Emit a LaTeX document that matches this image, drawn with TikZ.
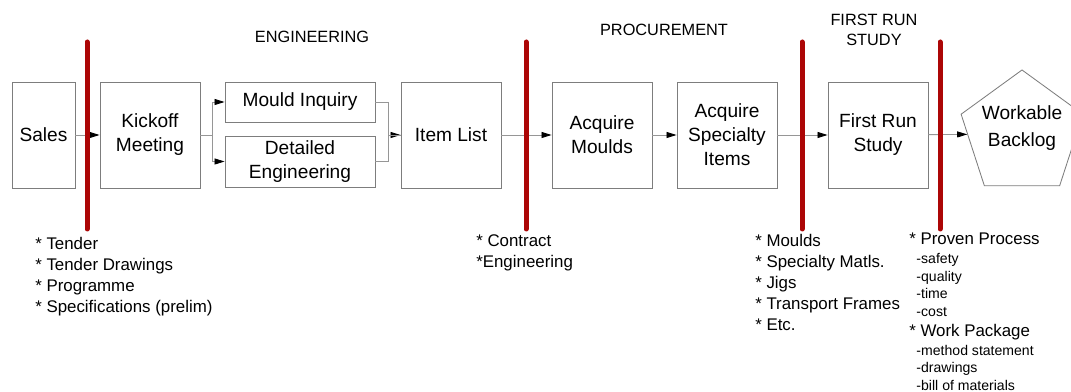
\documentclass[tikz,border=0pt]{standalone}
\usepackage{fontspec}
\setmainfont{Liberation Sans}
\usepackage{xcolor}
\usetikzlibrary{arrows.meta, shapes}

\definecolor{gatered}{RGB}{172,6,6}
\definecolor{boxgray}{RGB}{125,125,125}
\definecolor{linegray}{RGB}{150,150,150}

\begin{document}
\begin{tikzpicture}[x=0.025cm, y=-0.025cm]
\useasboundingbox (0,0) rectangle (1071,392);

\begin{scope}[every node/.style={align=center, font=\fontsize{11.6}{14.2}\selectfont}]
  \node (eng) at (312,37) {ENGINEERING};
  \node (proc) at (664,30) {PROCUREMENT};
  \node (frshead) at (874,30) {FIRST RUN\\STUDY};
\end{scope}

\begin{scope}[every node/.style={rectangle, draw=boxgray, line width=0.6pt, align=center, inner sep=0pt,
                                 minimum width=2.5cm, minimum height=2.65cm,
                                 font=\fontsize{13.6}{17}\selectfont}]
  \node[minimum width=1.575cm] (sales) at (43.5,135) {Sales};
  \node (kick) at (150,135) {Kickoff\\Meeting};
  \node[minimum width=3.75cm, minimum height=1cm] (mould) at (300,102) {Mould Inquiry};
  \node[minimum width=3.75cm, minimum height=1.275cm] (detail) at (300,161.5) {Detailed\\Engineering};
  \node (items) at (451,135) {Item List};
  \node (amoulds) at (602,135) {Acquire\\Moulds};
  \node (aspec) at (727,135) {Acquire\\Specialty\\Items};
  \node (frs) at (878,135) {First Run\\Study};
  \node[shape=regular polygon, regular polygon sides=5, minimum size=3.2cm] (backlog) at (1022,134) {};
\end{scope}
\node[align=center, font=\fontsize{13.6}{17}\selectfont] (backlogtxt) at (1022,128) {Workable\\[2pt]Backlog};

\begin{scope}[>={Triangle[black, length=0.25cm, width=0.15cm]},
              every edge/.style={draw=linegray, line width=0.6pt}]
    \path[->] (sales) edge (kick);
    \draw[->, linegray, line width=0.6pt] (kick.east) -- ++(12,0) |- (mould);
    \draw[->, linegray, line width=0.6pt] (kick.east) -- ++(12,0) |- (detail);
    \draw[->, linegray, line width=0.6pt] (mould.east) -- ++(13,0) |- (items);
    \draw[linegray, line width=0.6pt] (detail.east) -- ++(13,0) |- (items);
    \path[->] (items) edge (amoulds);
    \path[->] (amoulds) edge (aspec);
    \path[->] (aspec) edge (frs);
    \path[->] (frs) edge (backlog);
\end{scope}

\begin{scope}[gatered, line width=0.125cm, line cap=round]
  \foreach \x in {87,526,802,940}
    \draw (\x,42) -- (\x,229);
\end{scope}

\begin{scope}[every node/.style={anchor=north west, align=left, inner sep=0pt,
                                 font=\fontsize{12}{14.9}\selectfont}]
  \node (tender) at (35,237) {* Tender\\* Tender Drawings\\* Programme\\* Specifications (prelim)};
  \node (contract) at (476,234) {* Contract\\*Engineering};
  \node (supplies) at (755,234) {* Moulds\\* Specialty Matls.\\* Jigs\\* Transport Frames\\* Etc.};
  \node[font=\fontsize{10}{12.4}\selectfont] (proven) at (909,233)
    {{\fontsize{12}{14}\selectfont * Proven Process}\\[1.1pt]
     \hspace{0.18cm}-safety\\ \hspace{0.18cm}-quality\\ \hspace{0.18cm}-time\\ \hspace{0.18cm}-cost\\[1.8pt]
     {\fontsize{12}{14}\selectfont * Work Package}\\[1.1pt]
     \hspace{0.18cm}-method statement\\ \hspace{0.18cm}-drawings\\ \hspace{0.18cm}-bill of materials};
\end{scope}

\end{tikzpicture}
\end{document}
